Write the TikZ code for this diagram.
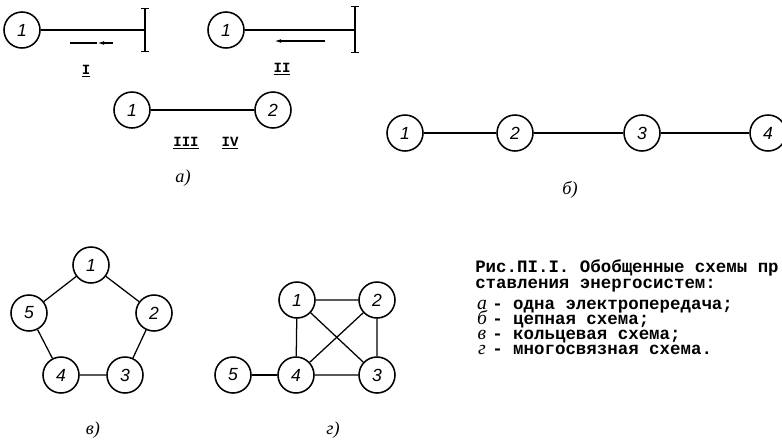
\documentclass[tikz,border=0pt]{standalone}
\usepackage{fontspec}
\setmainfont{Liberation Serif}
\setsansfont{Liberation Sans}
\setmonofont{Liberation Mono}
\usetikzlibrary{arrows.meta, positioning}
\tikzset{
  bus/.style={
    circle, draw, line width=1.1pt, minimum size=0.9cm, inner sep=0pt,
    font=\sffamily\itshape\fontsize{12.5}{12.5}\selectfont
  },
  linkline/.style={line width=0.9pt},
  busbar/.style={line width=1pt, {Bar[width=5pt]}-{Bar[width=5pt]}},
  flowarrow/.style={line width=0.9pt, -{Latex[length=5pt, width=2.6pt]}},
  romanlabel/.style={font=\ttfamily\bfseries\fontsize{10}{10}\selectfont, inner sep=0pt},
  partlabel/.style={font=\itshape\fontsize{13}{13}\selectfont, inner sep=0pt},
  captiontext/.style={anchor=base west, inner sep=0pt, font=\ttfamily\bfseries\fontsize{12.4}{12.4}\selectfont},
  keyletter/.style={anchor=base, inner sep=0pt, font=\itshape\fontsize{14}{14}\selectfont}
}

\begin{document}
\begin{tikzpicture}[x=0.025cm, y=-0.025cm]
  \path[use as bounding box, fill=white] (0,0) rectangle (782,443);

  % a) single transmission line, cases I and II
  \node[bus] (genI) at (22,30) {1};
  \coordinate (barI) at (145,30);
  \coordinate (barItop) at (145,8);
  \coordinate (barIbot) at (145,52);
  \draw[linkline] (genI) -- (barI);
  \draw[busbar] (barItop) -- (barIbot);
  \coordinate (flowIa) at (113,43);
  \coordinate (flowIm) at (97,43);
  \coordinate (flowIb) at (70,43);
  \draw[linkline] (flowIm) -- (flowIb);
  \draw[flowarrow] (flowIa) -- (flowIm);
  \node[romanlabel] (caseI) at (86,71) {\underline{I}};

  \node[bus] (genII) at (226,30) {1};
  \coordinate (barII) at (355,30);
  \coordinate (barIItop) at (355,6);
  \coordinate (barIIbot) at (355,53);
  \draw[linkline] (genII) -- (barII);
  \draw[busbar] (barIItop) -- (barIIbot);
  \coordinate (flowIIa) at (325,41);
  \coordinate (flowIIb) at (274,41);
  \draw[flowarrow] (flowIIa) -- (flowIIb);
  \node[romanlabel] (caseII) at (282,69) {\underline{II}};

  % a) cases III and IV
  \node[bus] (lineone) at (132,110) {1};
  \node[bus] (linetwo) at (273,110) {2};
  \draw[linkline] (lineone) -- (linetwo);
  \node[romanlabel] (caseIII) at (186,143) {\underline{III}};
  \node[romanlabel] (caseIV) at (230,143) {\underline{IV}};
  \node[partlabel] (labela) at (183,178) {а)};

  % b) chain scheme
  \node[bus] (chain1) at (405,133) {1};
  \node[bus] (chain2) at (515,133) {2};
  \node[bus] (chain3) at (642,133) {3};
  \node[bus] (chain4) at (768,133) {4};
  \draw[linkline] (chain1) -- (chain2) -- (chain3) -- (chain4);
  \node[partlabel] (labelb) at (570,190) {б)};

  % v) ring scheme
  \node[bus] (ring1) at (91,265) {1};
  \node[bus] (ring2) at (154,313) {2};
  \node[bus] (ring3) at (125,375) {3};
  \node[bus] (ring4) at (61,375) {4};
  \node[bus] (ring5) at (29,313) {5};
  \draw[linkline] (ring1) -- (ring2) -- (ring3) -- (ring4) -- (ring5) -- (ring1);
  \node[partlabel] (labelv) at (93,430) {в)};

  % g) meshed scheme
  \node[bus] (mesh1) at (297,300) {1};
  \node[bus] (mesh2) at (377,300) {2};
  \node[bus] (mesh3) at (377,375) {3};
  \node[bus] (mesh4) at (296,375) {4};
  \node[bus] (mesh5) at (233,375) {5};
  \draw[linkline] (mesh1) -- (mesh2) -- (mesh3) -- (mesh4) -- (mesh1);
  \draw[linkline] (mesh1) -- (mesh3);
  \draw[linkline] (mesh2) -- (mesh4);
  \draw[linkline] (mesh5) -- (mesh4);
  \node[partlabel] (labelg) at (333,430) {г)};

  % caption and key
  \node[captiontext] (captop) at (475,272) {Рис.ПI.I. Обобщенные схемы пр};
  \node[captiontext] (capsub) at (475,288) {ставления энергосистем:};
  \node[keyletter] (keya) at (482,309) {а};
  \node[keyletter] (keyb) at (482,324) {б};
  \node[keyletter] (keyv) at (482,339) {в};
  \node[keyletter] (keyg) at (482,354) {г};
  \node[captiontext] (texta) at (492,309) {- одна электропередача;};
  \node[captiontext] (textb) at (492,324) {- цепная схема;};
  \node[captiontext] (textv) at (492,339) {- кольцевая схема;};
  \node[captiontext] (textg) at (492,354) {- многосвязная схема.};
\end{tikzpicture}
\end{document}
